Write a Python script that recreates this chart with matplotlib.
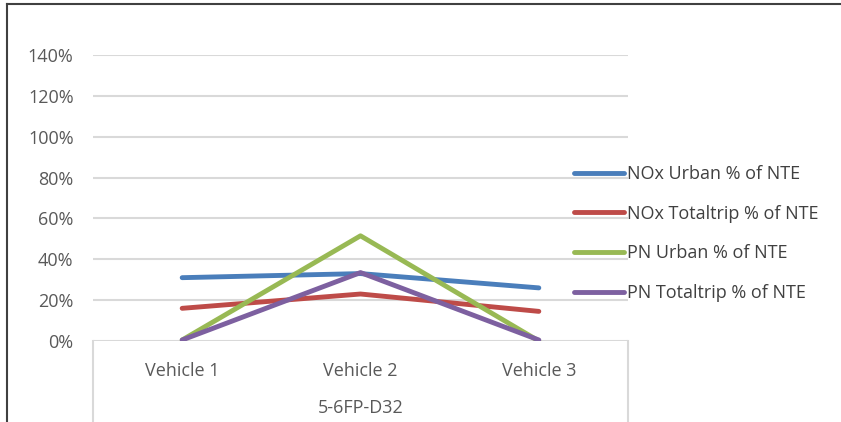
import matplotlib
matplotlib.use("Agg")
import matplotlib.pyplot as plt
from matplotlib.lines import Line2D
from matplotlib.ticker import FuncFormatter

# ── data ──────────────────────────────────────────────────────────────────────
vehicles = ["Vehicle 1", "Vehicle 2", "Vehicle 3"]
group_label = "5-6FP-D32"

nox_urban = [0.31, 0.33, 0.26]
nox_total = [0.16, 0.23, 0.145]
pn_urban = [0.005, 0.515, 0.0]
pn_total = [0.005, 0.335, 0.005]

series_names = [
    "NOx Urban % of NTE",
    "NOx Totaltrip % of NTE",
    "PN Urban % of NTE",
    "PN Totaltrip % of NTE",
]
series_colors = ["#4A7EBB", "#BE4B48", "#98B954", "#7D60A0"]

W, H = 841, 422
FS = 13
fig = plt.figure(figsize=(W / 100, H / 100), dpi=100)
plt.rcParams["font.family"] = ["Open Sans", "DejaVu Sans"]

# plot area: x 93..628 px, y 55 (140%) .. 341 (0%) px
ax = fig.add_axes([93 / W, (H - 341) / H, (628 - 93) / W, (341 - 55) / H])
ax.set_xlim(-0.5, 2.5)
ax.set_ylim(0, 1.4)

for v in [0.2 * i for i in range(8)]:
    ax.axhline(v, color="#D9D9D9", linewidth=1.5, zorder=1)

xs = list(range(len(vehicles)))
for vals, name, col in zip([nox_urban, nox_total, pn_urban, pn_total],
                           series_names, series_colors):
    ax.plot(xs, vals, color=col, linewidth=3.5, solid_capstyle="round",
            label=name, zorder=3)

for s in ax.spines.values():
    s.set_visible(False)

ax.set_yticks([0.2 * i for i in range(8)])
ax.yaxis.set_major_formatter(FuncFormatter(lambda v, _: f"{v * 100:.0f}%"))
ax.set_xticks(xs)
ax.set_xticklabels(vehicles)
ax.tick_params(axis="both", length=0, labelsize=FS, colors="#595959")
ax.tick_params(axis="y", pad=14)
ax.tick_params(axis="x", pad=15)

# second level category label
ax.text(1, -67 / 286, group_label, transform=ax.get_xaxis_transform(),
        ha="center", va="center", fontsize=FS, color="#595959")

# category axis box
for xv in (-0.5, 2.5):
    ax.plot([xv, xv], [0, -0.4], color="#D9D9D9", linewidth=1.5,
            transform=ax.get_xaxis_transform(), clip_on=False)

ax.legend(loc="upper left", bbox_to_anchor=(565 / W, 1 - 156 / H),
          bbox_transform=fig.transFigure, frameon=False, fontsize=FS,
          handlelength=2.75, handletextpad=0.2, labelspacing=1.2,
          borderpad=0, labelcolor="#404040")

# outer chart frame
fig.add_artist(Line2D([7 / W, 1], [1 - 4 / H, 1 - 4 / H], color="#404040",
                      linewidth=1.5, transform=fig.transFigure))
fig.add_artist(Line2D([7 / W, 7 / W], [0, 1 - 4 / H], color="#404040",
                      linewidth=1.5, transform=fig.transFigure))

fig.savefig("out.png", dpi=100)
